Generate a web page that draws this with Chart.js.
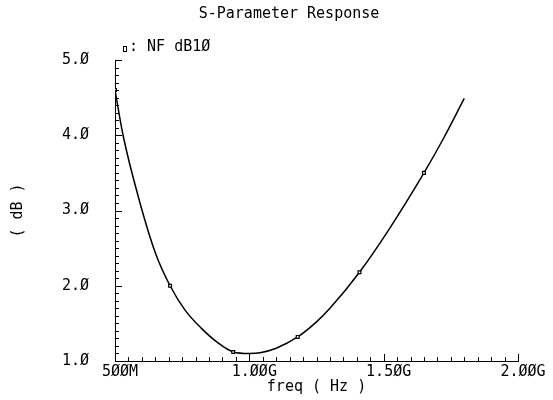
<!DOCTYPE html>
<html>
<head>
<meta charset="utf-8">
<script src="https://cdn.jsdelivr.net/npm/chart.js@4/dist/chart.umd.min.js"></script>
<style>
  body { margin: 0; background: #fff; }
  #wrap { width: 553px; height: 400px; }
</style>
</head>
<body>
<div id="wrap"><canvas id="nf-chart"></canvas></div>
<script>
// frequency sweep (GHz) and noise figure (dB)
const freqGHz = [0.50, 0.53, 0.59, 0.65, 0.705, 0.76, 0.82, 0.88, 0.94, 1.00, 1.04, 1.10, 1.18, 1.25, 1.30, 1.41, 1.52, 1.65, 1.72, 1.80];
const nfDb    = [4.60, 4.00, 3.14, 2.44, 2.00, 1.68, 1.44, 1.25, 1.12, 1.10, 1.11, 1.17, 1.32, 1.52, 1.70, 2.18, 2.75, 3.50, 3.94, 4.49];
const markerFreqs = [0.50, 0.705, 0.94, 1.18, 1.41, 1.65];
const xTickVals = [0.5, 1.0, 1.5, 2.0];
const yTickVals = [1, 2, 3, 4, 5];
const titleText = 'S-Parameter Response';
const seriesName = 'NF dB1Ø';

const FONT = 'DejaVu Sans Mono';
const slash = s => s.replace(/0/g, 'Ø');

const points = freqGHz.map((f, i) => ({x: f, y: nfDb[i]}));
const radii = freqGHz.map(f => markerFreqs.includes(f) ? 2 : 0);

// inward major/minor ticks, drawn through the scales
const tickMarks = {
  id: 'tickMarks',
  afterDraw(chart) {
    const {ctx, scales: {x, y}, chartArea: a} = chart;
    ctx.save();
    ctx.strokeStyle = '#000';
    ctx.lineWidth = 1;
    ctx.beginPath();
    for (let i = 10; i <= 50; i++) {
      const py = Math.round(y.getPixelForValue(i / 10)) + 0.5;
      const len = i % 10 === 0 ? 7 : 4;
      ctx.moveTo(a.left, py); ctx.lineTo(a.left + len, py);
    }
    for (let i = 10; i <= 40; i++) {
      const px = Math.round(x.getPixelForValue(i / 20)) + 0.5;
      const len = i % 10 === 0 ? 7 : 4;
      ctx.moveTo(px, a.bottom); ctx.lineTo(px, a.bottom - len);
    }
    ctx.stroke();
    ctx.restore();
  }
};

// title and legend text
const labels = {
  id: 'labels',
  afterDraw(chart) {
    const {ctx, chartArea: a} = chart;
    ctx.save();
    ctx.fillStyle = '#000';
    ctx.font = '15px "' + FONT + '"';
    ctx.textAlign = 'center';
    ctx.textBaseline = 'middle';
    ctx.fillText(titleText, 289, 14);
    ctx.strokeStyle = '#000';
    ctx.lineWidth = 1;
    ctx.strokeRect(a.left + 8.5, a.top - 13.5, 3, 5);
    ctx.textAlign = 'left';
    ctx.fillText(': ' + seriesName, a.left + 14, a.top - 13);
    ctx.restore();
  }
};

new Chart(document.getElementById('nf-chart'), {
  type: 'line',
  data: {
    datasets: [{
      label: seriesName,
      data: points,
      borderColor: '#000',
      borderWidth: 1.5,
      cubicInterpolationMode: 'monotone',
      pointStyle: 'rect',
      pointRadius: radii,
      pointBackgroundColor: '#fff',
      pointBorderColor: '#000',
      pointBorderWidth: 1.2,
      fill: false
    }]
  },
  options: {
    responsive: true,
    maintainAspectRatio: false,
    animation: false,
    layout: { padding: { top: 60, right: 35, left: 0, bottom: 0 } },
    plugins: { legend: { display: false }, title: { display: false }, tooltip: { enabled: false } },
    scales: {
      x: {
        type: 'linear',
        min: 0.5,
        max: 2.0,
        afterBuildTicks: s => { s.ticks = xTickVals.map(v => ({value: v})); },
        afterFit: s => { s.height = 39; },
        grid: { drawOnChartArea: false, drawTicks: false },
        border: { color: '#000', width: 1 },
        ticks: {
          color: '#000',
          padding: 2,
          labelOffset: 5,
          maxRotation: 0,
          font: { family: FONT, size: 15 },
          callback: v => v < 1 ? slash(Math.round(v * 1000) + 'M') : slash(v.toFixed(2) + 'G')
        },
        title: { display: true, text: 'freq ( Hz )', color: '#000', font: { family: FONT, size: 15 }, padding: { top: 0, bottom: 4 } }
      },
      y: {
        min: 1,
        max: 5,
        afterBuildTicks: s => { s.ticks = yTickVals.map(v => ({value: v})); },
        afterFit: s => { s.width = 115; },
        grid: { drawOnChartArea: false, drawTicks: false },
        border: { color: '#000', width: 1 },
        ticks: {
          color: '#000',
          padding: 26,
          font: { family: FONT, size: 15 },
          callback: v => slash(v.toFixed(1))
        },
        title: { display: true, text: '( dB )', color: '#000', font: { family: FONT, size: 15 }, padding: { top: 9, bottom: 0 } }
      }
    }
  },
  plugins: [tickMarks, labels]
});
</script>
</body>
</html>
